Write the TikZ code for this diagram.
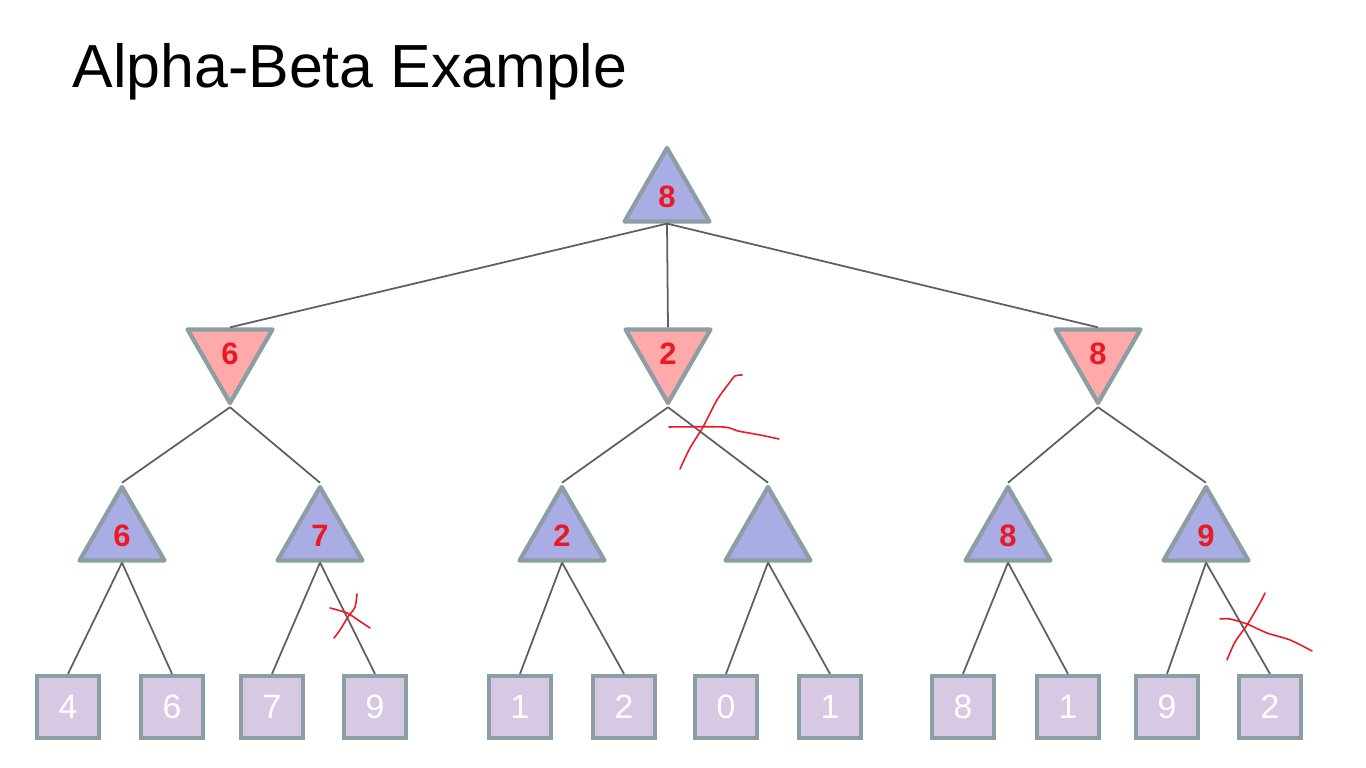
\documentclass[tikz,border=0pt]{standalone}
\usepackage{fontspec}
\setmainfont{Liberation Sans}
\usetikzlibrary{shapes.geometric}

\definecolor{maxblue}{RGB}{170,172,228}
\definecolor{minpink}{RGB}{255,170,170}
\definecolor{leaflilac}{RGB}{215,200,228}
\definecolor{rimgray}{RGB}{138,158,163}
\definecolor{edgegray}{RGB}{95,95,95}
\definecolor{valred}{RGB}{235,25,35}

\tikzset{
    maxnode/.style={regular polygon, regular polygon sides=3, minimum size=0.98cm,
        inner sep=0pt, draw=rimgray, line width=1.2pt, line join=round, fill=maxblue,
        text=valred, font=\bfseries\fontsize{8.8}{10}\selectfont},
    minnode/.style={maxnode, regular polygon rotate=180, fill=minpink},
    leaf/.style={rectangle, minimum size=0.62cm, inner sep=0pt, draw=rimgray,
        line width=1.2pt, fill=leaflilac, text=white, font=\fontsize{9.6}{11}\selectfont},
    edge/.style={draw=edgegray, line width=0.5pt},
    cross/.style={draw=valred, line width=0.45pt, line cap=round}
}

\begin{document}
\begin{tikzpicture}[x=0.01cm,y=-0.01cm]
    \useasboundingbox (0,0) rectangle (1366,768);
    \node[anchor=base west, inner sep=0pt, font=\fontsize{17.3}{20}\selectfont] (title) at (72,88) {Alpha-Beta Example};

    % game tree
    \node[maxnode] (root) at (667,197) {8};
    \node[minnode] (a) at (230,354) {6};
    \node[minnode] (b) at (668,354) {2};
    \node[minnode] (c) at (1098,354) {8};

    \node[maxnode] (a1) at (122,536) {6};
    \node[maxnode] (a2) at (320,536) {7};
    \node[maxnode] (b1) at (562,536) {2};
    \node[maxnode] (b2) at (768,536) {};
    \node[maxnode] (c1) at (1008,536) {8};
    \node[maxnode] (c2) at (1206,536) {9};

    \node[leaf] (l1) at (68,707) {4};
    \node[leaf] (l2) at (172,707) {6};
    \node[leaf] (l3) at (272,707) {7};
    \node[leaf] (l4) at (375,707) {9};
    \node[leaf] (l5) at (520,707) {1};
    \node[leaf] (l6) at (624,707) {2};
    \node[leaf] (l7) at (726,707) {0};
    \node[leaf] (l8) at (830,707) {1};
    \node[leaf] (l9) at (963,707) {8};
    \node[leaf] (l10) at (1068,707) {1};
    \node[leaf] (l11) at (1167,707) {9};
    \node[leaf] (l12) at (1270,707) {2};

    \draw[edge] (root.south) -- (a.north);
    \draw[edge] (root.south) -- (b.north);
    \draw[edge] (root.south) -- (c.north);
    \draw[edge] (a.south) -- (a1.north);
    \draw[edge] (a.south) -- (a2.north);
    \draw[edge] (b.south) -- (b1.north);
    \draw[edge] (b.south) -- (b2.north);
    \draw[edge] (c.south) -- (c1.north);
    \draw[edge] (c.south) -- (c2.north);
    \draw[edge] (a1.south) -- (l1.north);
    \draw[edge] (a1.south) -- (l2.north);
    \draw[edge] (a2.south) -- (l3.north);
    \draw[edge] (a2.south) -- (l4.north);
    \draw[edge] (b1.south) -- (l5.north);
    \draw[edge] (b1.south) -- (l6.north);
    \draw[edge] (b2.south) -- (l7.north);
    \draw[edge] (b2.south) -- (l8.north);
    \draw[edge] (c1.south) -- (l9.north);
    \draw[edge] (c1.south) -- (l10.north);
    \draw[edge] (c2.south) -- (l11.north);
    \draw[edge] (c2.south) -- (l12.north);

    % pruning marks
    \draw[cross] plot[smooth] coordinates {(680,469) (690,448) (703,427) (717,400) (730,382) (735,376) (742,375)};
    \draw[cross] plot[smooth] coordinates {(669,427) (723,427) (738,431) (760,435) (779,439)};
    \draw[cross] plot[smooth] coordinates {(357,594) (355,607) (348,617) (340,630) (334,638)};
    \draw[cross] plot[smooth] coordinates {(330,608) (347,613) (358,620) (370,628)};
    \draw[cross] plot[smooth] coordinates {(1265,593) (1260,603) (1247,625) (1235,642) (1227,660)};
    \draw[cross] plot[smooth] coordinates {(1220,619) (1230,619) (1247,624) (1267,633) (1290,640) (1312,651)};
\end{tikzpicture}
\end{document}
